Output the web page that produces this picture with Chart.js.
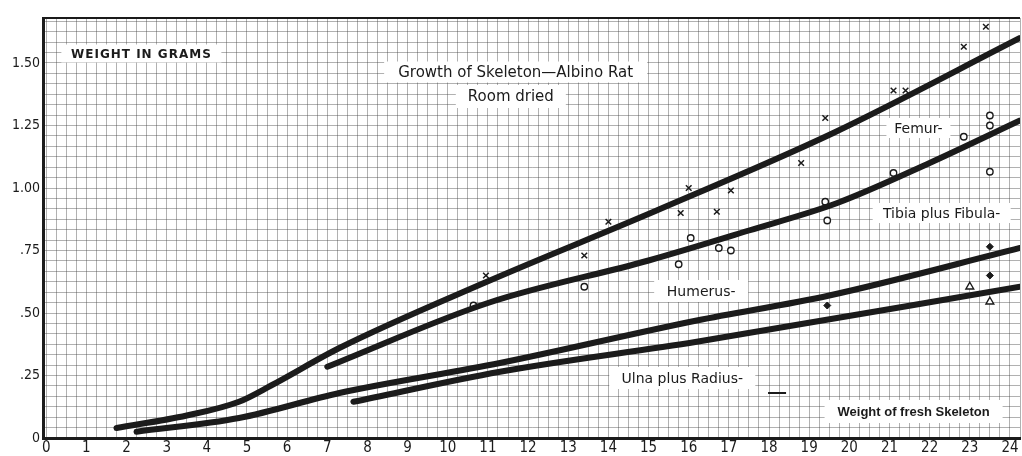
<!DOCTYPE html>
<html>
<head>
<meta charset="utf-8">
<script src="https://cdn.jsdelivr.net/npm/chart.js@4"></script>
<style>
  html, body { margin: 0; padding: 0; background: #fff; overflow: hidden; }
  canvas { display: block; }
</style>
</head>
<body>
<canvas id="skeletonChart" width="1022" height="456"></canvas>
<script>
// x = weight of fresh skeleton, y = weight in grams (room dried)
var xTickLabels = ["0","1","2","3","4","5","6","7","8","9","10","11","12","13","14","15","16","17","18","19","20","21","22","23","24"];
var yTickLabels = ["0", ".25", ".50", ".75", "1.00", "1.25", "1.50"];

// drawn curves
var femurLineX = [1.75, 3.5, 4.8, 5.6, 7.3, 10.9, 15.2, 19.6, 24.25];
var femurLineY = [0.04, 0.09, 0.145, 0.21, 0.36, 0.62, 0.91, 1.22, 1.60];
var tibiaLineX = [7.0, 11.0, 15.0, 17.5, 19.7, 22.0, 24.25];
var tibiaLineY = [0.285, 0.54, 0.71, 0.83, 0.94, 1.10, 1.27];
var humerusLineX = [2.25, 4.8, 7.3, 11.3, 16.2, 19.5, 24.25];
var humerusLineY = [0.025, 0.08, 0.18, 0.30, 0.47, 0.57, 0.76];
var ulnaLineX = [7.65, 11.3, 16.2, 24.25];
var ulnaLineY = [0.145, 0.265, 0.385, 0.605];

// observations
var femurPtsX = [10.95, 13.4, 14.0, 15.8, 16.0, 16.7, 17.05, 18.8, 19.4, 21.1, 21.4, 22.85, 23.4];
var femurPtsY = [0.65, 0.73, 0.865, 0.90, 1.00, 0.905, 0.99, 1.10, 1.28, 1.39, 1.39, 1.565, 1.645];
var tibiaPtsX = [10.64, 13.4, 15.75, 16.05, 16.75, 17.05, 19.4, 19.45, 21.1, 22.85, 23.5, 23.5, 23.5];
var tibiaPtsY = [0.53, 0.605, 0.695, 0.80, 0.76, 0.75, 0.945, 0.87, 1.06, 1.205, 1.065, 1.25, 1.29];
var humerusPtsX = [19.45, 23.5, 23.5];
var humerusPtsY = [0.53, 0.765, 0.65];
var ulnaPtsX = [23.0, 23.5];
var ulnaPtsY = [0.605, 0.545];
var dashMarkX = [18.2];
var dashMarkY = [0.18];

function pts(xs, ys) {
    return xs.map(function (x, i) { return { x: x, y: ys[i] }; });
}

var INK = "#1b1b1b";
var GRID = "rgba(70,70,70,0.42)";
var fontNarrow = "'Liberation Sans Narrow', 'DejaVu Sans Condensed', 'Liberation Sans', sans-serif";

// text boxes sitting on the graph paper
var notes = [
    { text: "WEIGHT IN GRAMS", x: 2.37, y: 1.538, w: 160, h: 18, font: "bold 12px 'DejaVu Sans', sans-serif", spacing: "1px" },
    { text: "Growth of Skeleton\u2014Albino Rat", x: 11.69, y: 1.464, w: 263, h: 21, font: "15px 'DejaVu Sans', sans-serif" },
    { text: "Room dried", x: 11.57, y: 1.366, w: 110, h: 23, font: "15px 'DejaVu Sans', sans-serif" },
    { text: "Femur-", x: 21.72, y: 1.24, w: 64, h: 20, font: "14px 'DejaVu Sans', sans-serif" },
    { text: "Tibia plus Fibula-", x: 22.3, y: 0.90, w: 138, h: 20, font: "14px 'DejaVu Sans', sans-serif" },
    { text: "Humerus-", x: 16.31, y: 0.588, w: 94, h: 22, font: "14px 'DejaVu Sans', sans-serif" },
    { text: "Ulna plus Radius-", x: 15.84, y: 0.24, w: 146, h: 22, font: "14px 'DejaVu Sans', sans-serif" },
    { text: "Weight of fresh Skeleton", x: 21.6, y: 0.106, w: 178, h: 23, font: "bold 13px 'Liberation Sans', sans-serif" }
];

var paperPlugin = {
    id: "paper",
    beforeDatasetsDraw: function (chart) {
        var c = chart.ctx, a = chart.chartArea;
        var xs = chart.scales.x, ys = chart.scales.y;
        c.save();
        // top border of the sheet
        c.strokeStyle = INK;
        c.lineWidth = 2;
        c.beginPath();
        c.moveTo(a.left, a.top);
        c.lineTo(a.right, a.top);
        c.stroke();
        notes.forEach(function (n) {
            var px = xs.getPixelForValue(n.x), py = ys.getPixelForValue(n.y);
            c.fillStyle = "#ffffff";
            c.fillRect(px - n.w / 2, py - n.h / 2, n.w, n.h);
            c.fillStyle = INK;
            c.font = n.font;
            c.letterSpacing = n.spacing || "0px";
            c.textAlign = "center";
            c.textBaseline = "middle";
            c.fillText(n.text, px, py + 1);
        });
        c.restore();
    }
};

function curve(xs, ys) {
    return {
        type: "line",
        data: pts(xs, ys),
        borderColor: INK,
        borderWidth: 6,
        pointRadius: 0,
        cubicInterpolationMode: "monotone",
        borderCapStyle: "round"
    };
}

function speckle(xs, ys) {
    return {
        type: "line",
        data: pts(xs, ys),
        borderColor: "rgba(255,255,255,0.55)",
        borderWidth: 1.5,
        borderDash: [2, 6],
        pointRadius: 0,
        cubicInterpolationMode: "monotone"
    };
}

var ctx = document.getElementById("skeletonChart").getContext("2d");
var chart = new Chart(ctx, {
    type: "scatter",
    data: {
        datasets: [
            curve(femurLineX, femurLineY),
            curve(tibiaLineX, tibiaLineY),
            curve(humerusLineX, humerusLineY),
            curve(ulnaLineX, ulnaLineY),
            speckle(femurLineX, femurLineY),
            speckle(tibiaLineX, tibiaLineY),
            speckle(humerusLineX, humerusLineY),
            speckle(ulnaLineX, ulnaLineY),
            { data: pts(femurPtsX, femurPtsY), pointStyle: "crossRot", pointRadius: 4, borderColor: INK, borderWidth: 1.5 },
            { data: pts(tibiaPtsX, tibiaPtsY), pointStyle: "circle", pointRadius: 3.2, backgroundColor: "#fff", borderColor: INK, borderWidth: 1.4 },
            { data: pts(humerusPtsX, humerusPtsY), pointStyle: "rectRot", pointRadius: 3.5, backgroundColor: INK, borderColor: INK, borderWidth: 1 },
            { data: pts(ulnaPtsX, ulnaPtsY), pointStyle: "triangle", pointRadius: 4.5, backgroundColor: "#fff", borderColor: INK, borderWidth: 1.4 },
            { data: pts(dashMarkX, dashMarkY), pointStyle: "line", pointRadius: 9, borderColor: INK, borderWidth: 2 }
        ]
    },
    options: {
        responsive: false,
        animation: false,
        layout: { padding: { top: 18, right: 2, left: 0, bottom: 0 }, autoPadding: false },
        plugins: {
            legend: { display: false },
            tooltip: { enabled: false }
        },
        scales: {
            x: {
                type: "linear",
                min: -0.08,
                max: 24.25,
                afterBuildTicks: function (scale) {
                    var t = [];
                    for (var i = 0; i <= 97; i++) t.push({ value: i * 0.25 });
                    scale.ticks = t;
                },
                afterFit: function (scale) { scale.height = 18; },
                ticks: {
                    autoSkip: false,
                    maxRotation: 0,
                    padding: 1,
                    color: INK,
                    font: { size: 15, family: fontNarrow },
                    callback: function (value) {
                        var k = Math.round(value * 4);
                        return k % 4 === 0 && k / 4 < xTickLabels.length ? xTickLabels[k / 4] : "";
                    }
                },
                grid: { color: GRID, lineWidth: 1, drawTicks: false },
                border: { color: INK, width: 3 }
            },
            y: {
                type: "linear",
                min: 0,
                max: 1.68,
                afterBuildTicks: function (scale) {
                    var t = [];
                    for (var i = 0; i <= 40; i++) t.push({ value: i * 0.25 / 6 });
                    scale.ticks = t;
                },
                afterFit: function (scale) { scale.width = 43; },
                ticks: {
                    autoSkip: false,
                    padding: 3,
                    color: INK,
                    font: { size: 14, family: fontNarrow },
                    callback: function (value) {
                        var k = Math.round(value * 24);
                        return k % 6 === 0 ? yTickLabels[k / 6] : "";
                    }
                },
                grid: { color: GRID, lineWidth: 1, drawTicks: false },
                border: { color: INK, width: 3 }
            }
        }
    },
    plugins: [paperPlugin]
});
</script>
</body>
</html>
